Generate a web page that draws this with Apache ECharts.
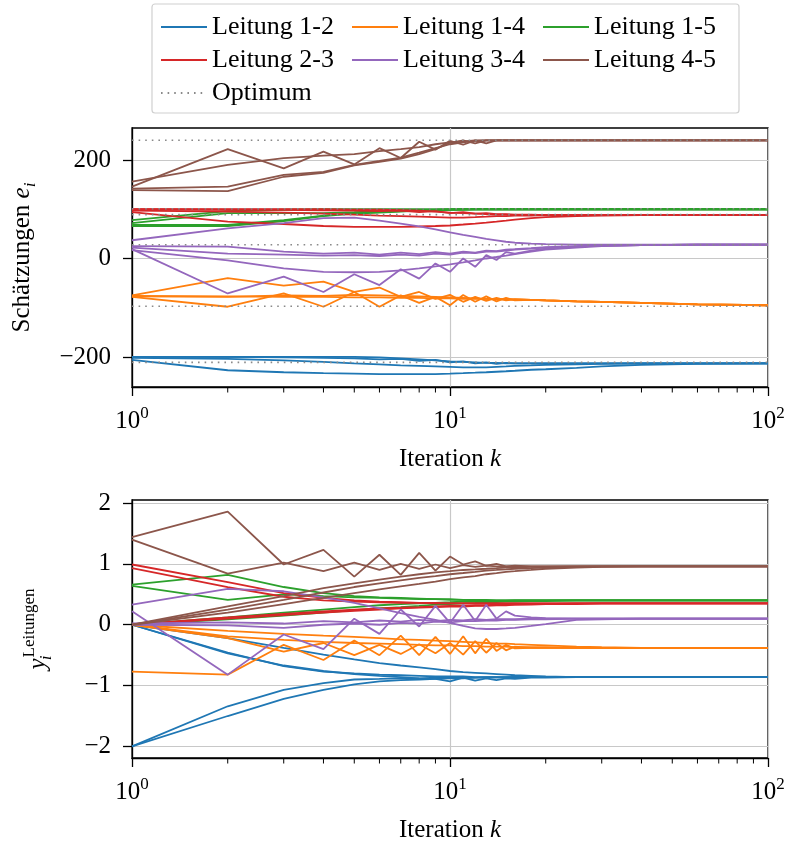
<!DOCTYPE html>
<html><head><meta charset="utf-8">
<script src="https://cdn.jsdelivr.net/npm/echarts@6/dist/echarts.min.js"></script>
<style>html,body{margin:0;padding:0;background:#fff}#c{width:787px;height:842px}</style>
</head><body><div id="c"></div>
<script>
// Iterations k
const K = [1,2,3,4,5,6,7,8,9,10,11,12,13,14,15,16,18,20,25,30,40,60,100];

const lineNames = ['Leitung 1-2','Leitung 1-4','Leitung 1-5','Leitung 2-3','Leitung 3-4','Leitung 4-5'];
const lineColors = ['#1f77b4','#ff7f0e','#2ca02c','#d62728','#9467bd','#8c564b'];

// ---- top plot: estimates e_i ----
const e12a = [-200,-200,-200,-200,-200,-201,-203,-205,-207,-209,-210,-211,-212,-212,-213,-213,-213,-213,-213,-213,-213,-213,-213];
const e12b = [-206,-227,-231,-233,-234,-235,-235,-235,-235,-234,-233,-232,-231,-230,-229,-228,-226,-225,-222,-219,-216,-214,-213];
const e12c = [-200,-200,-201,-202,-203,-205,-204,-208,-206,-211,-209,-213,-211,-214,-212,-213,-213,-213,-213,-213,-213,-213,-213];
const e12d = [-202,-204,-207,-210,-213,-215,-217,-218,-219,-220,-221,-221,-221,-220,-219,-218,-217,-216,-215,-214,-213,-213,-213];

const e14a = [-75,-40,-55,-47,-68,-98,-75,-90,-78,-95,-74,-88,-77,-87,-80,-85,-84,-85,-87,-88,-90,-93,-95];
const e14b = [-78,-98,-71,-98,-68,-59,-78,-68,-82,-74,-88,-78,-86,-80,-85,-83,-84,-85,-87,-88,-90,-93,-95];
const e14c = [-76,-77,-78,-78,-79,-79,-80,-80,-81,-81,-82,-82,-82,-83,-83,-83,-84,-85,-87,-88,-90,-93,-95];
const e14d = [-77,-78,-75,-76,-74,-75,-76,-77,-78,-79,-80,-81,-82,-82,-83,-83,-84,-85,-87,-88,-90,-93,-95];

const e15a = [78,96,99,100,100,100,100,100,100,100,100,100,100,100,100,100,100,100,100,100,100,100,100];
const e15b = [72,92,92,92,94,96,97,98,99,100,100,100,100,100,100,100,100,100,100,100,100,100,100];
const e15c = [68,68,78,87,92,94,96,97,98,99,100,100,100,100,100,100,100,100,100,100,100,100,100];
const e15d = [66,66,76,86,91,93,95,97,98,99,99,100,100,100,100,100,100,100,100,100,100,100,100];

const e23a = [100,100,100,100,99,99,98,97,95,93,92,91,90,89,89,88,88,88,88,88,88,88,88];
const e23b = [97,95,93,91,89,87,86,85,84,83,83,84,85,86,86,87,87,88,88,88,88,88,88];
const e23c = [94,75,70,66,64,64,64,65,66,67,69,71,73,75,77,79,82,84,86,87,88,88,88];
const e23d = [100,99,99,98,97,96,97,94,96,92,94,91,92,90,90,89,89,88,88,88,88,88,88];

const e34a = [37,61,72,82,83,77,71,65,59,53,48,44,40,37,34,32,30,29,28,28,28,28,28];
const e34b = [17,-4,-20,-27,-28,-27,-24,-20,-16,-12,-8,-4,0,3,6,9,14,18,22,25,27,28,28];
const e34c = [19,-71,-37,-68,-32,-54,-22,-41,-10,-27,0,-17,7,-3,13,10,16,20,24,26,27,28,28];
const e34d = [25,24,14,10,12,8,12,9,13,10,14,12,16,15,18,19,21,23,25,26,27,28,28];
const e34e = [22,10,8,6,7,5,8,6,10,8,12,11,14,14,16,18,20,22,24,26,27,28,28];

const e45a = [146,222,183,217,191,224,204,237,221,239,231,240,234,240,240,240,240,240,240,240,240,240,240];
const e45b = [156,190,204,209,212,218,222,226,232,236,238,240,240,240,240,240,240,240,240,240,240,240,240];
const e45c = [142,146,170,176,190,198,205,215,224,232,236,239,240,240,240,240,240,240,240,240,240,240,240];
const e45d = [139,137,166,174,189,196,203,212,222,235,240,234,240,240,240,240,240,240,240,240,240,240,240];

const optimum = [-211,-97,101,89,28,240];

// ---- bottom plot: y_i ----
const y12a = [-2,-1.34,-1.07,-0.96,-0.90,-0.89,-0.88,-0.88,-0.87,-0.87,-0.87,-0.87,-0.86,-0.86,-0.86,-0.86,-0.86,-0.86,-0.86,-0.86,-0.86,-0.86,-0.86];
const y12b = [-2,-1.50,-1.22,-1.07,-0.98,-0.93,-0.91,-0.90,-0.89,-0.88,-0.88,-0.87,-0.87,-0.87,-0.87,-0.86,-0.86,-0.86,-0.86,-0.86,-0.86,-0.86,-0.86];
const y12c = [0,-0.46,-0.68,-0.77,-0.80,-0.82,-0.83,-0.84,-0.85,-0.85,-0.85,-0.86,-0.86,-0.86,-0.86,-0.86,-0.86,-0.86,-0.86,-0.86,-0.86,-0.86,-0.86];
const y12d = [0,-0.47,-0.67,-0.76,-0.81,-0.84,-0.86,-0.88,-0.89,-0.93,-0.87,-0.92,-0.88,-0.91,-0.88,-0.89,-0.87,-0.87,-0.86,-0.86,-0.86,-0.86,-0.86];
const y12e = [0,-0.22,-0.38,-0.49,-0.57,-0.63,-0.67,-0.70,-0.73,-0.76,-0.78,-0.79,-0.80,-0.81,-0.82,-0.83,-0.84,-0.85,-0.86,-0.86,-0.86,-0.86,-0.86];

const y14a = [-0.77,-0.82,-0.33,-0.58,-0.26,-0.50,-0.18,-0.50,-0.20,-0.48,-0.19,-0.47,-0.23,-0.43,-0.33,-0.39,-0.38,-0.38,-0.38,-0.38,-0.38,-0.38,-0.38];
const y14b = [0,-0.22,-0.44,-0.30,-0.50,-0.33,-0.48,-0.32,-0.47,-0.30,-0.49,-0.27,-0.46,-0.30,-0.42,-0.36,-0.38,-0.38,-0.38,-0.38,-0.38,-0.38,-0.38];
const y14c = [0,-0.10,-0.15,-0.18,-0.20,-0.22,-0.24,-0.25,-0.26,-0.27,-0.28,-0.29,-0.30,-0.31,-0.31,-0.32,-0.33,-0.34,-0.36,-0.37,-0.38,-0.38,-0.38];
const y14d = [0,-0.19,-0.25,-0.28,-0.30,-0.31,-0.32,-0.33,-0.34,-0.34,-0.35,-0.35,-0.36,-0.36,-0.36,-0.37,-0.37,-0.37,-0.38,-0.38,-0.38,-0.38,-0.38];

const y15a = [0.66,0.82,0.62,0.52,0.47,0.45,0.44,0.43,0.42,0.42,0.41,0.41,0.41,0.40,0.40,0.40,0.40,0.40,0.40,0.40,0.40,0.40,0.40];
const y15b = [0.64,0.41,0.50,0.47,0.45,0.44,0.43,0.42,0.42,0.41,0.41,0.40,0.40,0.40,0.40,0.40,0.40,0.40,0.40,0.40,0.40,0.40,0.40];
const y15c = [0,0.09,0.15,0.20,0.24,0.27,0.29,0.31,0.33,0.34,0.35,0.36,0.37,0.37,0.38,0.38,0.39,0.39,0.40,0.40,0.40,0.40,0.40];
const y15d = [0,0.12,0.20,0.25,0.29,0.32,0.34,0.35,0.36,0.37,0.38,0.38,0.39,0.39,0.39,0.40,0.40,0.40,0.40,0.40,0.40,0.40,0.40];

const y23a = [0.99,0.70,0.52,0.44,0.40,0.38,0.37,0.36,0.36,0.35,0.35,0.35,0.35,0.35,0.35,0.35,0.35,0.35,0.35,0.35,0.35,0.35,0.35];
const y23b = [0.93,0.62,0.46,0.40,0.38,0.37,0.36,0.36,0.35,0.35,0.35,0.35,0.35,0.35,0.35,0.35,0.35,0.35,0.35,0.35,0.35,0.35,0.35];
const y23c = [0,0.12,0.18,0.22,0.25,0.27,0.28,0.29,0.30,0.31,0.31,0.32,0.32,0.33,0.33,0.33,0.34,0.34,0.35,0.35,0.35,0.35,0.35];
const y23d = [0,0.10,0.16,0.20,0.23,0.25,0.27,0.28,0.29,0.30,0.30,0.31,0.31,0.32,0.32,0.33,0.33,0.34,0.34,0.35,0.35,0.35,0.35];

const y34a = [0.33,0.59,0.55,0.45,0.36,0.27,0.19,0.13,0.08,0.03,-0.02,-0.06,-0.07,-0.07,-0.06,-0.05,-0.02,0.01,0.08,0.09,0.10,0.10,0.10];
const y34b = [0.22,-0.82,-0.16,-0.40,0.10,-0.15,0.25,-0.03,0.31,0.03,0.33,0.06,0.33,0.10,0.22,0.15,0.12,0.11,0.10,0.10,0.10,0.10,0.10];
const y34c = [0.02,0.04,0.02,0.06,0.04,0.07,0.05,0.08,0.06,0.08,0.07,0.09,0.08,0.09,0.09,0.09,0.10,0.10,0.10,0.10,0.10,0.10,0.10];
const y34d = [0,-0.01,-0.05,0.00,0.02,0.00,0.03,0.02,0.05,0.04,0.06,0.06,0.07,0.07,0.08,0.08,0.09,0.09,0.10,0.10,0.10,0.10,0.10];

const y45a = [1.44,1.86,0.99,1.23,0.79,1.15,0.82,1.18,0.89,1.12,0.99,1.04,0.97,1.00,0.96,0.97,0.96,0.96,0.96,0.96,0.96,0.96,0.96];
const y45b = [1.40,0.84,1.02,0.88,1.02,0.90,1.00,0.92,0.99,0.93,0.98,0.95,0.97,0.96,0.96,0.96,0.96,0.96,0.96,0.96,0.96,0.96,0.96];
const y45c = [0,0.30,0.47,0.60,0.68,0.74,0.79,0.83,0.86,0.88,0.90,0.91,0.92,0.93,0.94,0.94,0.95,0.95,0.96,0.96,0.96,0.96,0.96];
const y45d = [0,0.25,0.41,0.53,0.62,0.68,0.73,0.77,0.80,0.83,0.85,0.87,0.89,0.90,0.91,0.92,0.93,0.94,0.95,0.96,0.96,0.96,0.96];
const y45e = [0,0.20,0.34,0.44,0.52,0.58,0.63,0.67,0.71,0.75,0.78,0.80,0.83,0.85,0.87,0.88,0.90,0.92,0.94,0.95,0.96,0.96,0.96];

const topLines = [[e12a,e12b,e12c,e12d],[e14a,e14b,e14c,e14d],[e15a,e15b,e15c,e15d],[e23a,e23b,e23c,e23d],[e34a,e34b,e34c,e34d,e34e],[e45a,e45b,e45c,e45d]];
const botLines = [[y12a,y12b,y12c,y12d,y12e],[y14a,y14b,y14c,y14d],[y15a,y15b,y15c,y15d],[y23a,y23b,y23c,y23d],[y34a,y34b,y34c,y34d],[y45a,y45b,y45c,y45d,y45e]];

const xRange = [1,100];
const xMinorTicks = [2,3,4,5,6,7,8,9,20,30,40,50,60,70,80,90];
const topYRange = [-261,265];
const topYTicks = [-200,0,200];
const botYRange = [-2.19,2.05];
const botYTicks = [-2,-1,0,1,2];

const FONT = 'Liberation Serif';
const FS = 25;

const chart = echarts.init(document.getElementById('c'), null, {renderer:'canvas'});

function xMain(gi){
  return {
    gridIndex: gi, type:'log', logBase:10, min:xRange[0], max:xRange[1], position:'bottom',
    axisLine:{show:true, onZero:false, lineStyle:{color:'#000', width:1.3}},
    axisTick:{show:true, length:9, lineStyle:{color:'#000', width:1.3}},
    axisLabel:{
      margin:18, color:'#000',
      formatter: v => '{b|10}{s|' + Math.round(Math.log10(v)) + '}',
      rich:{ b:{fontFamily:FONT, fontSize:FS, lineHeight:32, color:'#000'},
             s:{fontFamily:FONT, fontSize:17, lineHeight:32, verticalAlign:'top', color:'#000'} }
    },
    splitLine:{show:true, lineStyle:{color:'#c8c8c8', width:1.2}},
    name:'Iteration {k|k}', nameLocation:'middle', nameGap:60,
    nameTextStyle:{fontFamily:FONT, fontSize:FS, color:'#000',
      rich:{k:{fontFamily:FONT, fontSize:FS, fontStyle:'italic', color:'#000'}}}
  };
}
function yAxis(gi, range, ticks, name, rich, gap){
  return {
    gridIndex: gi, type:'value', min:range[0], max:range[1],
    axisLine:{show:true, onZero:false, lineStyle:{color:'#000', width:1.3}},
    axisTick:{show:true, length:9, customValues:ticks, lineStyle:{color:'#000', width:1.3}},
    axisLabel:{customValues:ticks, margin:21, color:'#000', fontFamily:FONT, fontSize:FS,
      formatter: v => (v < 0 ? '\u2212' : '') + Math.abs(v)},
    splitLine:{show:true, lineStyle:{color:'#c8c8c8', width:1.2}},
    name: name, nameLocation:'middle', nameGap:gap, nameRotate:90,
    nameTextStyle:{fontFamily:FONT, fontSize:FS, color:'#000', lineHeight:34, rich:rich}
  };
}

// minor ticks of the log x axes, placed through the axis scale
function minorTickSeries(xi, yMin){
  return {
    type:'custom', xAxisIndex:xi, yAxisIndex:xi, silent:true, clip:false, z:5,
    data: xMinorTicks.map(v => [v, yMin]),
    renderItem: (params, api) => {
      const p = api.coord([api.value(0), api.value(1)]);
      return {type:'line', shape:{x1:p[0], y1:p[1], x2:p[0], y2:p[1] + 5.5},
              style:{stroke:'#000', lineWidth:1}};
    }
  };
}

const series = [];
for (let i = 0; i < lineNames.length; i++) {
  topLines[i].forEach(arr => series.push({
    type:'line', name:lineNames[i], xAxisIndex:0, yAxisIndex:0,
    data: K.map((k,j) => [k, arr[j]]), symbol:'none', silent:true,
    lineStyle:{color:lineColors[i], width:1.8}, itemStyle:{color:lineColors[i]}
  }));
  botLines[i].forEach(arr => series.push({
    type:'line', name:lineNames[i], xAxisIndex:1, yAxisIndex:1,
    data: K.map((k,j) => [k, arr[j]]), symbol:'none', silent:true,
    lineStyle:{color:lineColors[i], width:1.8}, itemStyle:{color:lineColors[i]}
  }));
}
optimum.forEach(v => series.push({
  type:'line', name:'Optimum', xAxisIndex:0, yAxisIndex:0,
  data: [[xRange[0], v],[xRange[1], v]], symbol:'none', silent:true, z:3,
  lineStyle:{color:'#8a8a8a', width:1.6, type:[1.6,5]}, itemStyle:{color:'#8a8a8a'}
}));
series.push(minorTickSeries(0, topYRange[0]));
series.push(minorTickSeries(1, botYRange[0]));

const legendNames = [['Leitung 1-2','Leitung 1-4','Leitung 1-5'],['Leitung 2-3','Leitung 3-4','Leitung 4-5'],['Optimum']];
const legendCols = [160, 351, 542];
const legendRows = [13, 46, 79];
const legends = [];
legendNames.forEach((row, r) => row.forEach((nm, c) => legends.push({
  data:[nm], left:legendCols[c], top:legendRows[r], orient:'horizontal',
  padding:0, itemWidth:46, itemHeight:14, itemGap:0, selectedMode:false,
  itemStyle:{opacity:0},
  textStyle:{fontFamily:FONT, fontSize:26, color:'#000', lineHeight:28}
})));

chart.setOption({
  animation:false,
  backgroundColor:'#fff',
  grid:[
    {left:132, right:19, top:128, height:259, show:true, borderColor:'#000', borderWidth:1.3, outerBoundsMode:'none'},
    {left:132, right:19, top:500, height:258, show:true, borderColor:'#000', borderWidth:1.3, outerBoundsMode:'none'}
  ],
  xAxis:[xMain(0), xMain(1)],
  yAxis:[
    yAxis(0, topYRange, topYTicks, 'Schätzungen {e|e}{i|i}',
      {e:{fontFamily:FONT, fontSize:FS, fontStyle:'italic', lineHeight:34, color:'#000'},
       i:{fontFamily:FONT, fontSize:17, fontStyle:'italic', lineHeight:34, verticalAlign:'bottom', color:'#000'}}, 93),
    yAxis(1, botYRange, botYTicks, '{y|y}{i|i}{s|Leitungen}',
      {y:{fontFamily:FONT, fontSize:FS, fontStyle:'italic', lineHeight:34, color:'#000'},
       i:{fontFamily:FONT, fontSize:17, fontStyle:'italic', lineHeight:34, verticalAlign:'bottom', width:1, color:'#000'},
       s:{fontFamily:FONT, fontSize:17, lineHeight:34, verticalAlign:'top', color:'#000'}}, 77)
  ],
  legend: legends,
  graphic:[{type:'rect', shape:{x:152, y:4, width:587, height:109, r:3},
    style:{fill:'none', stroke:'#d0d0d0', lineWidth:1.2}, silent:true, z:-1}],
  series: series
});
</script></body></html>
